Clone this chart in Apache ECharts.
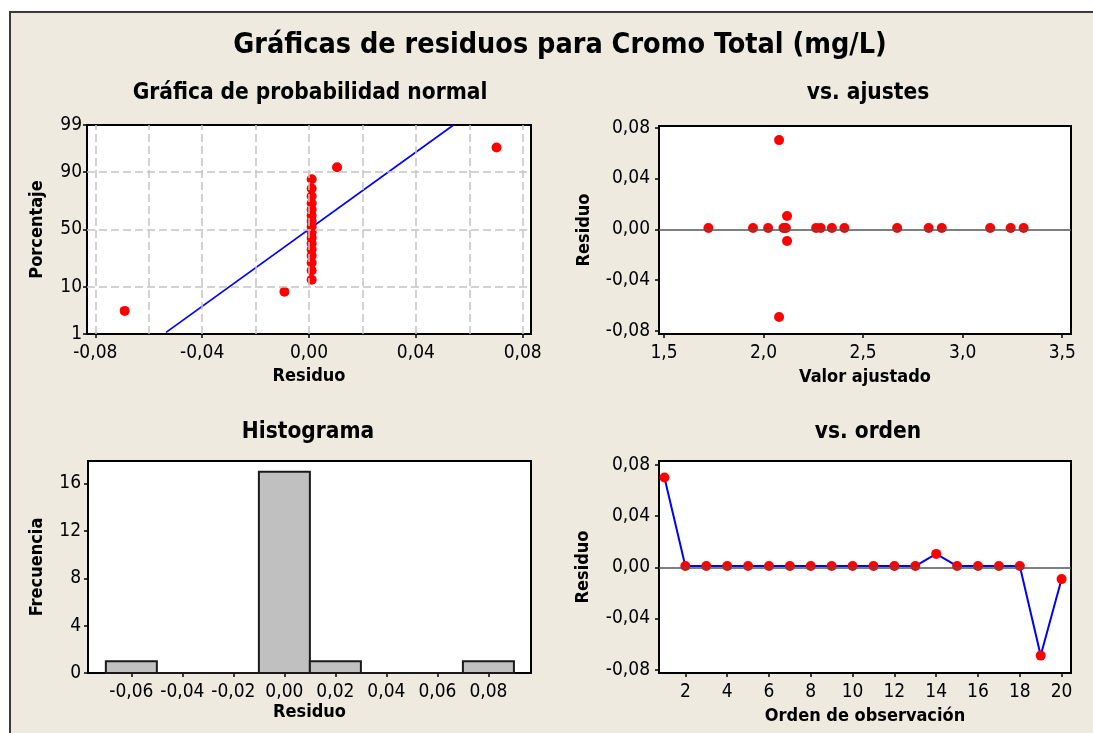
<!DOCTYPE html>
<html><head><meta charset="utf-8">
<script src="https://cdn.jsdelivr.net/npm/echarts@6/dist/echarts.min.js"></script>
<style>html,body{margin:0;padding:0;background:#fff}#c{width:1093px;height:733px}</style>
</head><body><div id="c"></div>
<script>
// ---------- data ----------
const observation = [1,2,3,4,5,6,7,8,9,10,11,12,13,14,15,16,17,18,19,20];
const residuals = [0.0702,0.0010,0.0010,0.0010,0.0010,0.0010,0.0010,0.0010,0.0010,0.0010,0.0010,0.0010,0.0010,0.0105,0.0010,0.0010,0.0010,0.0010,-0.0690,-0.0092];
const fitted = [2.078,1.723,1.947,2.023,2.100,2.106,2.112,2.264,2.287,2.343,2.406,2.671,2.829,2.118,2.895,3.138,3.241,3.306,2.078,2.118];
// normal probability plot
const probPercent = [3.5,8.3,13.2,18.1,23.0,27.9,32.8,37.7,42.6,47.5,52.5,57.4,62.3,67.2,72.1,77.0,81.9,86.8,91.7,96.6];
const fitLineResid = [-0.0535, 0.0541];
const fitLinePercent = [1.1, 99];
const probPercentTicks = [1, 10, 50, 90, 99];
const probPercentGrid = [10, 50, 90];
const probResidTicks = [-0.08, -0.04, 0, 0.04, 0.08];
const probResidGrid = [-0.08,-0.06,-0.04,-0.02,0,0.02,0.04,0.06,0.08];
// histogram
const binCenters = [-0.06,-0.04,-0.02,0,0.02,0.04,0.06,0.08];
const binCounts = [1,0,0,17,1,0,0,1];
const binWidth = 0.02;
const histXTicks = [-0.06,-0.04,-0.02,0,0.02,0.04,0.06,0.08];
const histYTicks = [0,4,8,12,16];
// other tick labels
const residTicks = [-0.08,-0.04,0,0.04,0.08];
const fitTicks = [1.5,2.0,2.5,3.0,3.5];
const orderTicks = [2,4,6,8,10,12,14,16,18,20];

// ---------- helpers ----------
function invNorm(p){
  const a=[-3.969683028665376e+01,2.209460984245205e+02,-2.759285104469687e+02,1.383577518672690e+02,-3.066479806614716e+01,2.506628277459239e+00];
  const b=[-5.447609879822406e+01,1.615858368580409e+02,-1.556989798598866e+02,6.680131188771972e+01,-1.328068155288572e+01];
  const c=[-7.784894002430293e-03,-3.223964580411365e-01,-2.400758277161838e+00,-2.549732539343734e+00,4.374664141464968e+00,2.938163982698783e+00];
  const d=[7.784695709041462e-03,3.224671290700398e-01,2.445134137142996e+00,3.754408661907416e+00];
  const pl=0.02425, ph=1-pl; let q,r;
  if(p<pl){q=Math.sqrt(-2*Math.log(p));return (((((c[0]*q+c[1])*q+c[2])*q+c[3])*q+c[4])*q+c[5])/((((d[0]*q+d[1])*q+d[2])*q+d[3])*q+1);}
  if(p<=ph){q=p-0.5;r=q*q;return (((((a[0]*r+a[1])*r+a[2])*r+a[3])*r+a[4])*r+a[5])*q/(((((b[0]*r+b[1])*r+b[2])*r+b[3])*r+b[4])*r+1);}
  q=Math.sqrt(-2*Math.log(1-p));return -(((((c[0]*q+c[1])*q+c[2])*q+c[3])*q+c[4])*q+c[5])/((((d[0]*q+d[1])*q+d[2])*q+d[3])*q+1);
}
const z = p => invNorm(p/100);
const comma = (v,n) => (Math.abs(v)<1e-12?0:v).toFixed(n).replace('.', ',');
const sortedResid = residuals.slice().sort((a,b)=>a-b);
const probTickZ = probPercentTicks.map(z);

const FONT = "'DejaVu Sans Condensed', 'DejaVu Sans', sans-serif";
const RED = '#FF0000', BLUE = '#0000FF';

function gridCfg(l,t,w,h){return {left:l,top:t,width:w,height:h,show:true,backgroundColor:'#fff',borderColor:'#000',borderWidth:2,containLabel:false};}
function axisBase(o){
  return Object.assign({
    type:'value', scale:false,
    axisLine:{show:false,onZero:false},
    splitLine:{show:false},
    nameLocation:'middle',
    nameTextStyle:{fontFamily:FONT,fontWeight:'bold',fontSize:18,color:'#000'},
  }, o);
}
function tick(values){return {show:true,inside:false,length:4,customValues:values,lineStyle:{color:'#000',width:1.5}};}
function lbl(values, fmt, margin){
  return {customValues:values, formatter:fmt, margin:margin, fontFamily:FONT, fontSize:19, color:'#000'};
}
const gridLine = {type:[8,4], color:'#C4C4C4', width:1.5};
const dot = {color:RED, opacity:1};

const option = {
  animation:false,
  backgroundColor:'#fff',
  graphic:[
    {type:'rect', z:-100, shape:{x:10,y:12,width:1083,height:721}, style:{fill:'#EEEAE0'}},
    {type:'polyline', z:-99, shape:{points:[[10,733],[10,12],[1093,12]]}, style:{stroke:'#3a3a3a',lineWidth:2,fill:null}},
    {type:'text', x:560, y:46, style:{text:'Gráficas de residuos para Cromo Total (mg/L)', font:"bold 28.5px "+FONT, fill:'#000', align:'center', verticalAlign:'middle'}},
    {type:'text', x:310, y:93, style:{text:'Gráfica de probabilidad normal', font:"bold 22.5px "+FONT, fill:'#000', align:'center', verticalAlign:'middle'}},
    {type:'text', x:868, y:93, style:{text:'vs. ajustes', font:"bold 22.5px "+FONT, fill:'#000', align:'center', verticalAlign:'middle'}},
    {type:'text', x:308, y:432, style:{text:'Histograma', font:"bold 22.5px "+FONT, fill:'#000', align:'center', verticalAlign:'middle'}},
    {type:'text', x:868, y:432, style:{text:'vs. orden', font:"bold 22.5px "+FONT, fill:'#000', align:'center', verticalAlign:'middle'}}
  ],
  grid:[gridCfg(87,125,444,209), gridCfg(659,126,412,208), gridCfg(88,461,443,212), gridCfg(659,461,412,212)],
  xAxis:[
    axisBase({gridIndex:0,min:-0.0831,max:0.0831,name:'Residuo',nameGap:33,
      axisTick:tick(probResidTicks), axisLabel:lbl(probResidTicks,v=>comma(v,2),10)}),
    axisBase({gridIndex:1,min:1.475,max:3.544,name:'Valor ajustado',nameGap:34,
      axisTick:tick(fitTicks), axisLabel:lbl(fitTicks,v=>comma(v,1),10)}),
    axisBase({gridIndex:2,min:-0.077,max:0.0967,name:'Residuo',nameGap:30,
      axisTick:tick(histXTicks), axisLabel:lbl(histXTicks,v=>comma(v,2),10)}),
    axisBase({gridIndex:3,min:0.74,max:20.45,name:'Orden de observación',nameGap:34,
      axisTick:tick(orderTicks), axisLabel:lbl(orderTicks,v=>String(v),10)})
  ],
  yAxis:[
    axisBase({gridIndex:0,min:z(1),max:z(99),name:'Porcentaje',nameGap:41,
      axisTick:tick(probTickZ),
      axisLabel:lbl(probTickZ,v=>{const i=probTickZ.findIndex(t=>Math.abs(t-v)<1e-6);return i>=0?String(probPercentTicks[i]):'';},5)}),
    axisBase({gridIndex:1,min:-0.0824,max:0.0813,name:'Residuo',nameGap:66,
      axisTick:tick(residTicks), axisLabel:lbl(residTicks,v=>comma(v,2),9)}),
    axisBase({gridIndex:2,min:0,max:17.9,name:'Frecuencia',nameGap:42,
      axisTick:tick(histYTicks), axisLabel:lbl(histYTicks,v=>String(v),7)}),
    axisBase({gridIndex:3,min:-0.0826,max:0.0831,name:'Residuo',nameGap:67,
      axisTick:tick(residTicks), axisLabel:lbl(residTicks,v=>comma(v,2),9)})
  ],
  series:[
    // probability plot gridlines
    {type:'line', xAxisIndex:0, yAxisIndex:0, data:[], z:1, silent:true,
      markLine:{silent:true, symbol:'none', label:{show:false}, lineStyle:gridLine, animation:false,
        data:[...probResidGrid.map(v=>({xAxis:v})), ...probPercentGrid.map(p=>({yAxis:z(p)}))]}},
    {type:'line', xAxisIndex:0, yAxisIndex:0, z:3, silent:true, symbol:'none',
      lineStyle:{color:BLUE,width:1.7}, data:fitLineResid.map((r,i)=>[r, z(fitLinePercent[i])])},
    {type:'scatter', xAxisIndex:0, yAxisIndex:0, z:4, symbolSize:10, itemStyle:dot,
      data:sortedResid.map((r,i)=>[r, z(probPercent[i])])},
    // vs fits
    {type:'line', xAxisIndex:1, yAxisIndex:1, data:[], z:1, silent:true,
      markLine:{silent:true, symbol:'none', label:{show:false}, lineStyle:{color:'#555',width:1.5,type:'solid'}, data:[{yAxis:0}]}},
    {type:'scatter', xAxisIndex:1, yAxisIndex:1, z:4, symbolSize:10, itemStyle:dot,
      data:fitted.map((f,i)=>[f, residuals[i]])},
    // histogram
    {type:'custom', xAxisIndex:2, yAxisIndex:2, z:3,
      data:binCenters.map((c,i)=>[c, binCounts[i]]),
      renderItem:(params, api)=>{
        const c=api.value(0), n=api.value(1);
        const p0=api.coord([c-binWidth/2, 0]), p1=api.coord([c+binWidth/2, n]);
        return {type:'rect', shape:{x:p0[0], y:p1[1], width:p1[0]-p0[0], height:p0[1]-p1[1]},
          style:{fill:'#C0C0C0', stroke:'#1a1a1a', lineWidth:2}};
      }},
    // vs order
    {type:'line', xAxisIndex:3, yAxisIndex:3, data:[], z:1, silent:true,
      markLine:{silent:true, symbol:'none', label:{show:false}, lineStyle:{color:'#555',width:1.5,type:'solid'}, data:[{yAxis:0}]}},
    {type:'line', xAxisIndex:3, yAxisIndex:3, z:4, symbol:'circle', symbolSize:10, showAllSymbol:true,
      lineStyle:{color:BLUE,width:2}, itemStyle:dot,
      data:observation.map((o,i)=>[o, residuals[i]])}
  ]
};
const chart = echarts.init(document.getElementById('c'), null, {renderer:'canvas'});
chart.setOption(option);
</script>
</body></html>
